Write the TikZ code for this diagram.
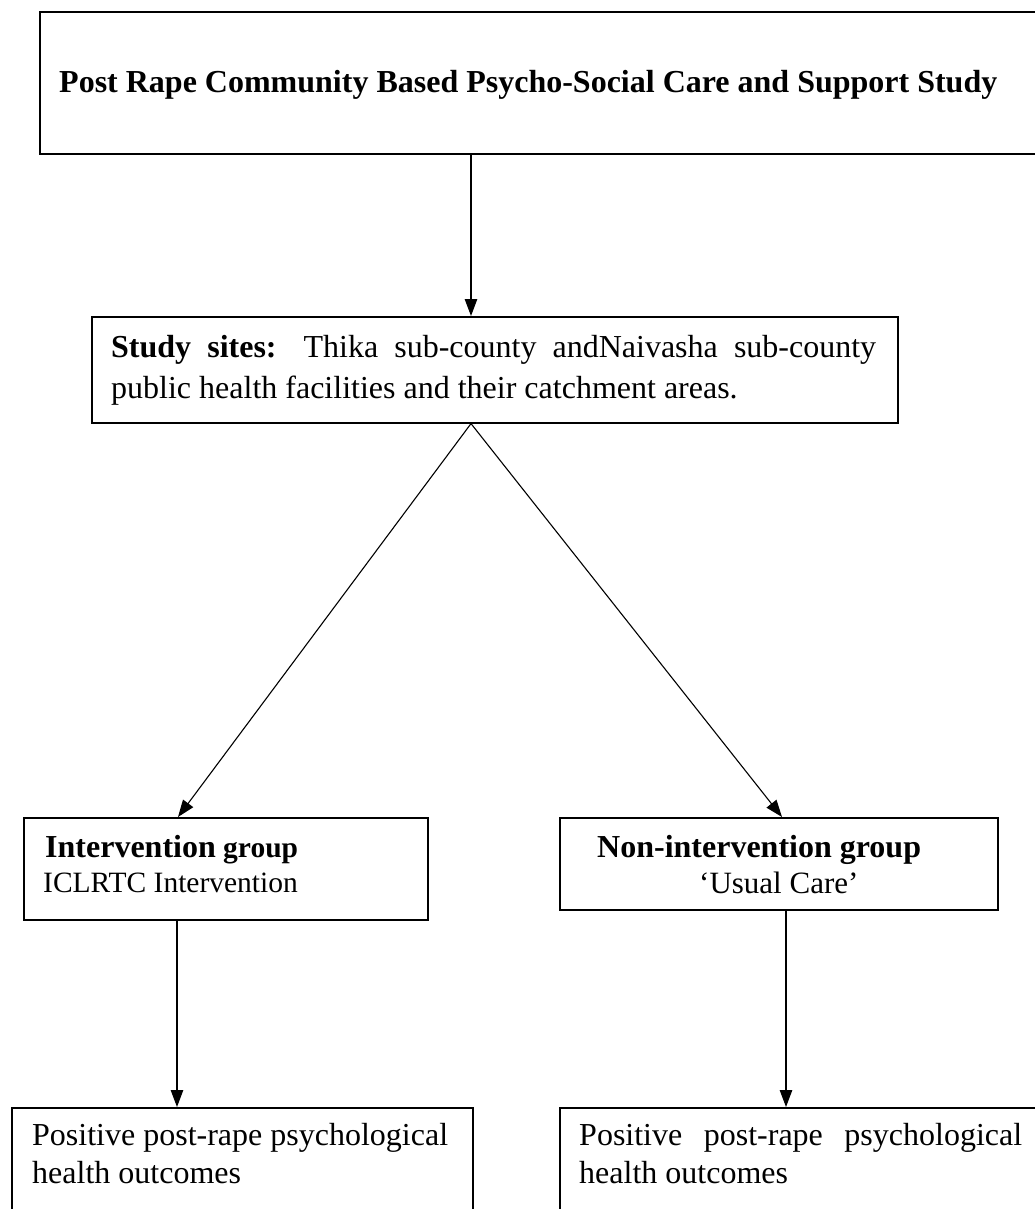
\documentclass[tikz,border=0pt]{standalone}
\usepackage{fontspec}
\setmainfont{Liberation Serif}
\usetikzlibrary{arrows.meta}
\begin{document}
\begin{tikzpicture}[x=1pt,y=-1pt,
  box/.style={draw=black, line width=1.6pt, inner sep=0pt, anchor=north west},
  arr/.style={line width=1.1pt, -{Triangle[length=17pt,width=12.5pt]}},
  txt/.style={anchor=base west, inner sep=0pt, font=\fontsize{32}{38}\selectfont},
  small/.style={txt, font=\fontsize{29.5}{36}\selectfont}]
\useasboundingbox (0,0) rectangle (1034,1209);
\fill[white] (0,0) rectangle (1034,1209);

% boxes
\node[box, minimum width=1001pt, minimum height=142pt] (top) at (39,11) {};
\node[box, minimum width=806pt, minimum height=106pt] (sites) at (91,316) {};
\node[box, minimum width=404pt, minimum height=102pt] (intv) at (23,817) {};
\node[box, minimum width=438pt, minimum height=92pt] (nonint) at (559,817) {};
\node[box, minimum width=461pt, minimum height=150pt] (outL) at (11,1107) {};
\node[box, minimum width=500pt, minimum height=150pt] (outR) at (559,1107) {};

% texts
\node[txt] (title) at (59,93) {\textbf{Post Rape Community Based Psycho-Social Care and Support Study}};
\node[txt] (s1) at (111,357) {\makebox[765pt][s]{\textbf{Study sites:} Thika sub-county andNaivasha sub-county}};
\node[txt] (s2) at (111,398) {public health facilities and their catchment areas.};
\node[txt] (i1) at (45,857) {\textbf{Intervention}\fontsize{29.5}{34}\selectfont\textbf{ group}};
\node[small] (i2) at (43,892) {ICLRTC Intervention};
\node[txt] (n1) at (597,857) {\textbf{Non-intervention group}};
\node[txt, font=\fontsize{31}{37}\selectfont] (n2) at (699,893) {‘Usual Care’};
\node[txt] (o1) at (32,1145) {Positive post-rape psychological};
\node[txt] (o2) at (32,1183) {health outcomes};
\node[txt] (p1) at (579,1145) {\makebox[443pt][s]{Positive post-rape psychological}};
\node[txt] (p2) at (579,1183) {health outcomes};

% connector positions
\coordinate (c0) at (471,0);
\coordinate (c1) at (178,0);
\coordinate (c2) at (782,0);
\coordinate (c3) at (177,0);
\coordinate (c4) at (786,0);

% connectors
\draw[arr] (top.south -| c0) -- (sites.north -| c0);
\draw[arr] (sites.south -| c0) -- (intv.north -| c1);
\draw[arr] (sites.south -| c0) -- (nonint.north -| c2);
\draw[arr] (intv.south -| c3) -- (outL.north -| c3);
\draw[arr] (nonint.south -| c4) -- (outR.north -| c4);
\end{tikzpicture}
\end{document}
